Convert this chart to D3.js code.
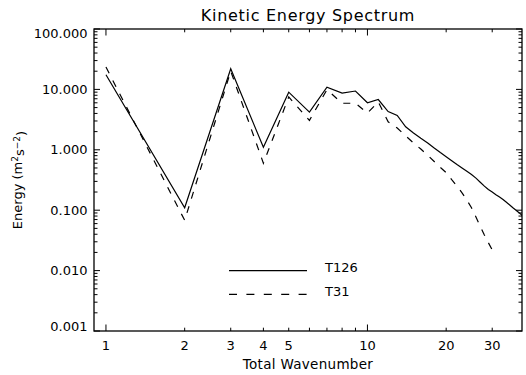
<!DOCTYPE html>
<html>
<head>
    <title>Kinetic Energy Spectrum</title>
    <script src="https://d3js.org/d3.v7.min.js"></script>
    <style>
        body { margin: 0; background: #fff; }
        text { font-family: "DejaVu Sans", sans-serif; fill: #000; }
        .tick line, .frame { stroke: #000; }
    </style>
</head>
<body>
<div id="chart"></div>
<script>
    // wavenumbers and energies (m^2 s^-2)
    const waveT126 = [1, 2, 3, 4, 5, 6, 7, 8, 9, 10, 11, 12, 13, 14, 15, 16, 17, 18, 19, 20,
        21, 22, 23, 24, 25, 26, 27, 28, 29, 30, 31, 32, 33, 34, 35, 36, 37, 38, 39, 40];
    const energyT126 = [17.5, 0.11, 22, 1.1, 9.0, 4.2, 10.9, 8.7, 9.4, 6.0, 6.8, 4.3, 3.7, 2.4, 1.9, 1.55, 1.3, 1.07, 0.90, 0.77,
        0.66, 0.57, 0.50, 0.44, 0.39, 0.34, 0.29, 0.25, 0.22, 0.20, 0.18, 0.165, 0.15, 0.135, 0.122, 0.11, 0.10, 0.091, 0.082, 0.075];

    const waveT31 = [1, 2, 3, 4, 5, 6, 7, 8, 9, 10, 11, 12, 13, 14, 15, 16, 17, 18, 19, 20,
        21, 22, 23, 24, 25, 26, 27, 28, 29, 30];
    const energyT31 = [23.4, 0.068, 20, 0.6, 7.5, 3.07, 9.9, 5.9, 5.9, 4.06, 6.2, 2.9, 2.3, 1.7, 1.3, 1.03, 0.81, 0.64, 0.51, 0.42,
        0.32, 0.25, 0.194, 0.147, 0.11, 0.077, 0.054, 0.039, 0.029, 0.022];

    const seriesNames = ["T126", "T31"];

    const xTicks = [1, 2, 3, 4, 5, 6, 7, 8, 9, 10, 20, 30];
    const xMajor = [1, 10];
    const xLabels = [1, 2, 3, 4, 5, 10, 20, 30];
    const yMajor = [0.001, 0.01, 0.1, 1, 10, 100];
    const yMinorSteps = [2, 3, 4, 5, 6, 7, 8, 9];

    const width = 526, height = 375;
    const margin = {top: 29, right: 4, bottom: 44, left: 94};

    const svg = d3.select("#chart").append("svg")
        .attr("width", width)
        .attr("height", height);

    const x = d3.scaleLog().domain([0.9, 39]).range([margin.left, width - margin.right]);
    const y = d3.scaleLog().domain([0.001, 100]).range([height - margin.bottom, margin.top]);

    const x0 = x.range()[0], x1 = x.range()[1];
    const y0 = y.range()[0], y1 = y.range()[1];

    svg.append("defs").append("clipPath").attr("id", "clip")
        .append("rect")
        .attr("x", x0).attr("y", y1)
        .attr("width", x1 - x0).attr("height", y0 - y1);

    // x ticks, bottom and top
    const xt = svg.append("g").attr("class", "tick");
    xTicks.forEach(v => {
        const len = xMajor.includes(v) ? 6.5 : 3.3;
        xt.append("line").attr("x1", x(v)).attr("x2", x(v)).attr("y1", y0).attr("y2", y0 - len).attr("stroke-width", 1);
        xt.append("line").attr("x1", x(v)).attr("x2", x(v)).attr("y1", y1).attr("y2", y1 + len).attr("stroke-width", 1);
    });

    // y ticks, left and right
    const yt = svg.append("g").attr("class", "tick");
    const yMinor = [];
    yMajor.forEach(d => yMinorSteps.forEach(s => { if (d * s < 100) yMinor.push(d * s); }));
    yMajor.concat(yMinor).forEach(v => {
        const len = yMajor.includes(v) ? 6 : 3.5;
        yt.append("line").attr("x1", x0).attr("x2", x0 + len).attr("y1", y(v)).attr("y2", y(v)).attr("stroke-width", 1);
        yt.append("line").attr("x1", x1).attr("x2", x1 - len).attr("y1", y(v)).attr("y2", y(v)).attr("stroke-width", 1);
    });

    // frame
    svg.append("rect").attr("class", "frame")
        .attr("x", x0).attr("y", y1)
        .attr("width", x1 - x0).attr("height", y0 - y1)
        .attr("fill", "none").attr("stroke-width", 1.3);

    // tick labels
    svg.append("g").selectAll("text")
        .data(xLabels)
        .enter().append("text")
        .attr("x", d => x(d))
        .attr("y", 350)
        .attr("text-anchor", "middle")
        .style("font-size", "13px")
        .text(d => d);

    const fmt = d3.format(".3f");
    svg.append("g").selectAll("text")
        .data(yMajor)
        .enter().append("text")
        .attr("x", x0 - 6.5)
        // keep labels inside the frame height, as the original does at the ends
        .attr("y", d => Math.min(Math.max(y(d), y1 + 4.6), y0 - 4.6))
        .attr("dy", "0.36em")
        .attr("text-anchor", "end")
        .style("font-size", "13px")
        .text(d => fmt(d));

    // title and axis titles
    svg.append("text")
        .attr("x", (x0 + x1) / 2)
        .attr("y", 20.7)
        .attr("text-anchor", "middle")
        .style("font-size", "16px")
        .style("letter-spacing", "0.7px")
        .text("Kinetic Energy Spectrum");

    svg.append("text")
        .attr("x", (x0 + x1) / 2)
        .attr("y", 369)
        .attr("text-anchor", "middle")
        .style("font-size", "13.5px")
        .style("letter-spacing", "0.3px")
        .text("Total Wavenumber");

    const ylab = svg.append("text")
        .attr("transform", `translate(22,${(y0 + y1) / 2}) rotate(-90)`)
        .attr("text-anchor", "middle")
        .style("font-size", "13px");
    ylab.append("tspan").text("Energy (m");
    ylab.append("tspan").attr("dy", "-0.5em").style("font-size", "9px").text("2");
    ylab.append("tspan").attr("dy", "0.5em").text("s");
    ylab.append("tspan").attr("dy", "-0.5em").style("font-size", "9px").text("\u22122");
    ylab.append("tspan").attr("dy", "0.5em").text(")");

    // data lines
    const line = d3.line().x(d => x(d[0])).y(d => y(d[1]));
    const plot = svg.append("g").attr("clip-path", "url(#clip)");

    plot.append("path")
        .datum(d3.zip(waveT126, energyT126))
        .attr("fill", "none").attr("stroke", "#000").attr("stroke-width", 1.2)
        .attr("d", line);

    plot.append("path")
        .datum(d3.zip(waveT31, energyT31))
        .attr("fill", "none").attr("stroke", "#000").attr("stroke-width", 1.2)
        .attr("stroke-dasharray", "7,8")
        .attr("d", line);

    // legend
    const legend = svg.append("g");
    [[270.7, null], [294.3, "8,9.4"]].forEach((row, i) => {
        legend.append("line")
            .attr("x1", 229).attr("x2", 307)
            .attr("y1", row[0]).attr("y2", row[0])
            .attr("stroke", "#000").attr("stroke-width", 1.2)
            .attr("stroke-dasharray", row[1]);
        legend.append("text")
            .attr("x", 325).attr("y", row[0] + 1.2)
            .style("font-size", "13px")
            .text(seriesNames[i]);
    });
</script>
</body>
</html>
